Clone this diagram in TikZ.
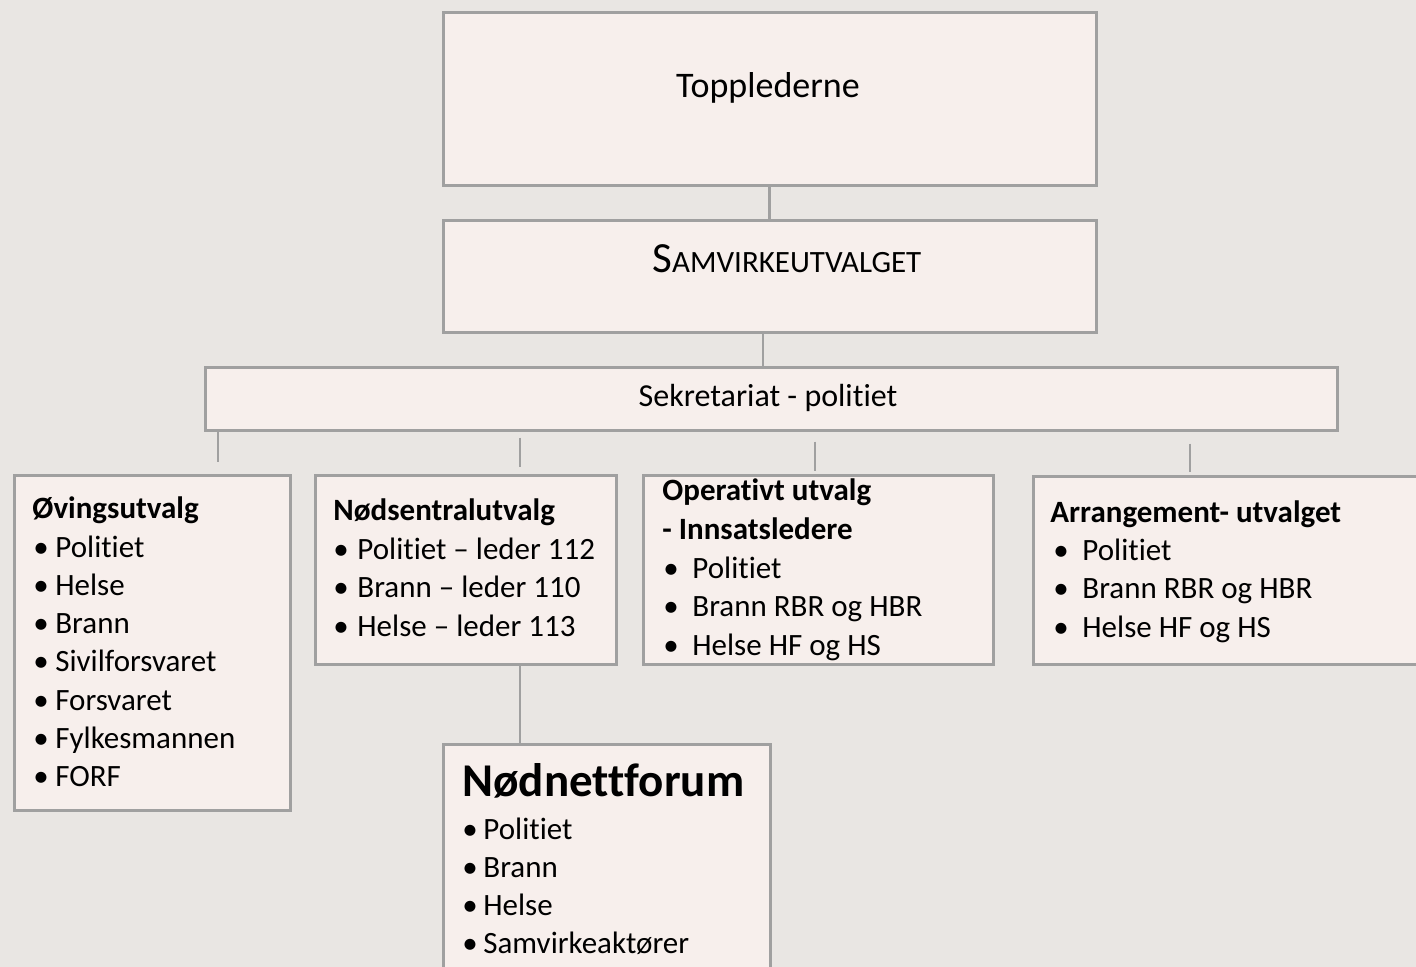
\documentclass[tikz,border=0pt]{standalone}
\usepackage{fontspec}
\setmainfont{Carlito}[Ligatures={TeX,NoCommon}]
\definecolor{slidebg}{RGB}{233,230,227}
\definecolor{boxfill}{RGB}{247,239,236}
\definecolor{boxline}{RGB}{160,160,160}
\newcommand\bul[1]{\makebox[#1][l]{•}}
\tikzset{
  box/.style={draw=boxline,fill=boxfill,line width=1.5pt,inner sep=0,anchor=north west},
  link/.style={draw=boxline,line width=1.3pt},
  txt/.style={anchor=base west,inner sep=0,font=\fontsize{15.5}{19}\selectfont},
  head/.style={anchor=base west,inner sep=0,font=\fontsize{15.5}{19}\selectfont\bfseries},
}
\begin{document}
\begin{tikzpicture}[x=0.5pt,y=-0.5pt]
\clip (0,0) rectangle (1416,967);
\fill[slidebg] (0,0) rectangle (1416,967);

% boxes
\node[box,minimum width=326.5pt,minimum height=86.5pt] (topp) at (441.5,11.5) {};
\node[box,minimum width=326.5pt,minimum height=56pt] (samv) at (441.5,219.5) {};
\node[box,minimum width=566pt,minimum height=31pt] (sek) at (203.5,366.5) {};
\node[box,minimum width=138pt,minimum height=167.5pt] (ovu) at (12.5,473.5) {};
\node[box,minimum width=150.5pt,minimum height=94.5pt] (nsu) at (313.5,473.5) {};
\node[box,minimum width=175pt,minimum height=94.5pt] (opu) at (641.5,473.5) {};
\node[box,minimum width=200pt,minimum height=94pt] (aru) at (1031.5,474.5) {};
\node[box,minimum width=163.5pt,minimum height=150pt] (nnf) at (441.5,742.5) {};

% connectors
\coordinate (mid) at (763,350);
\coordinate (c1) at (218,462);
\coordinate (c2) at (520,467);
\coordinate (c3) at (815,471);
\coordinate (c4) at (1190,472);
\draw[link] (topp) -- (samv);
\draw[link] (samv.south -| mid) -- (sek.north -| mid);
\draw[link] (sek.south -| c1) -- (c1);
\draw[link] ([yshift=-3pt]sek.south -| c2) -- (c2);
\draw[link] ([yshift=-5pt]sek.south -| c3) -- (c3);
\draw[link] ([yshift=-6pt]sek.south -| c4) -- (c4);
\draw[link] (nsu.south -| c2) -- (nnf.north -| c2);

% texts
\node[anchor=base,inner sep=0,font=\fontsize{18}{22}\selectfont] (topp text) at (768,98) {Topplederne};
\node[anchor=base west,inner sep=0] (samv text) at (652,273)
  {{\fontsize{21.5}{24}\selectfont S}{\fontsize{15.5}{19}\selectfont AMVIRKEUTVALGET}};
\node[anchor=base,inner sep=0,font=\fontsize{16}{19}\selectfont] (sek text) at (768,407) {Sekretariat - politiet};

\node[head] (ovu head) at (32,518) {Øvingsutvalg};
\foreach \t [count=\i from 0] in {Politiet,Helse,Brann,Sivilforsvaret,Forsvaret,Fylkesmannen,FORF}
  \node[txt] (ovu \i) at (33,557+38.3*\i) {\bul{11pt}\t};

\node[head] (nsu head) at (333,520) {Nødsentralutvalg};
\foreach \t [count=\i from 0] in {Politiet -- leder 112,Brann -- leder 110,Helse -- leder 113}
  \node[txt] (nsu \i) at (333,559+38.5*\i) {\bul{12pt}\t};

\node[head] (opu head) at (662,500) {Operativt utvalg};
\node[head] (opu head2) at (662,539) {- Innsatsledere};
\foreach \t [count=\i from 0] in {Politiet,Brann RBR og HBR,Helse HF og HS}
  \node[txt] (opu \i) at (663,578+38.5*\i) {\bul{14.5pt}\t};

\node[head] (aru head) at (1050,522) {Arrangement- utvalget};
\foreach \t [count=\i from 0] in {Politiet,Brann RBR og HBR,Helse HF og HS}
  \node[txt] (aru \i) at (1053,560+38.5*\i) {\bul{14.5pt}\t};

\node[head,font=\fontsize{23.5}{27}\selectfont\bfseries] (nnf head) at (462,796) {Nødnettforum};
\foreach \t [count=\i from 0] in {Politiet,Brann,Helse,Samvirkeaktører}
  \node[txt] (nnf \i) at (462,839+38.3*\i) {\bul{10.5pt}\t};
\end{tikzpicture}
\end{document}
